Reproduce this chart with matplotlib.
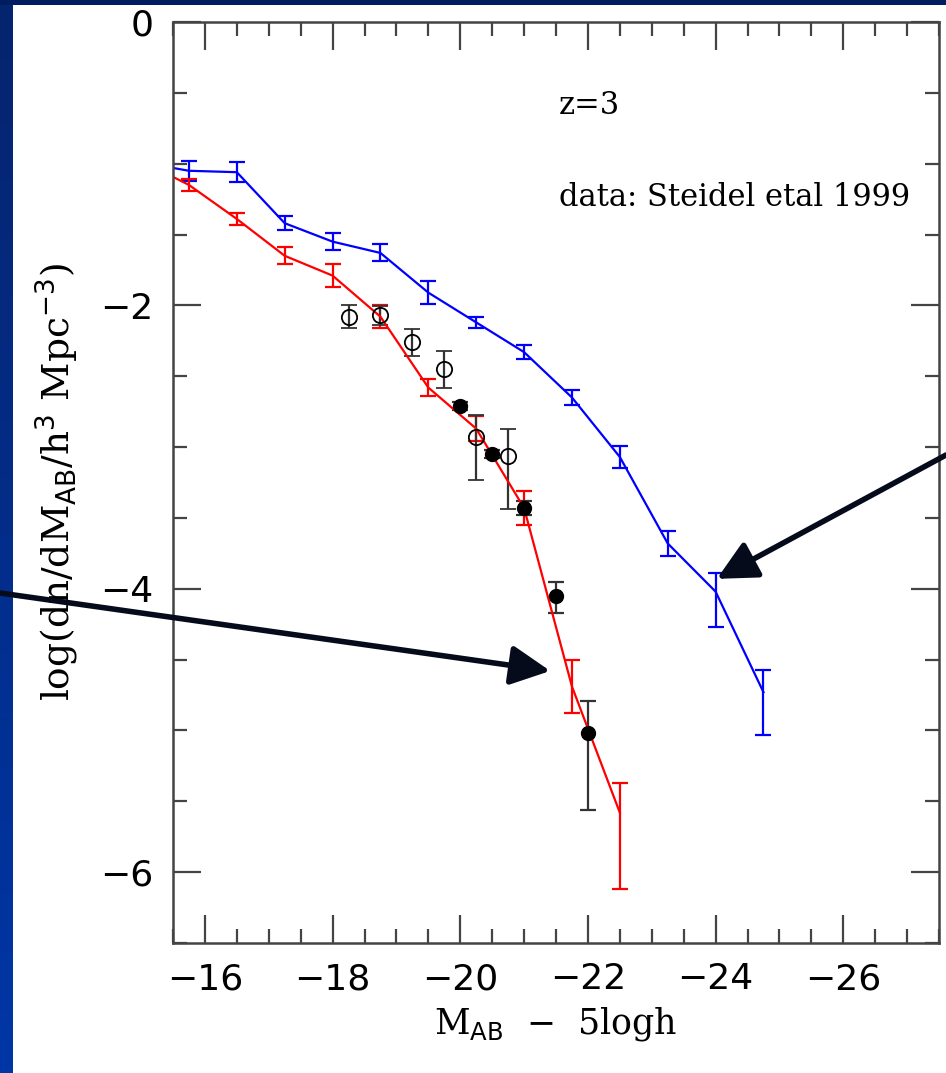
import numpy as np
import matplotlib
matplotlib.use("Agg")
import matplotlib.pyplot as plt
from matplotlib.colors import LinearSegmentedColormap

# model curves (blue / red), same magnitude grid
mag_blue = [-15.0, -15.75, -16.5, -17.25, -18.0, -18.75, -19.5, -20.25,
            -21.0, -21.75, -22.5, -23.25, -24.0, -24.75]
phi_blue = [-0.99, -1.05, -1.06, -1.42, -1.55, -1.63, -1.91, -2.12,
            -2.33, -2.65, -3.07, -3.68, -4.02, -4.73]
up_blue = [0.07, 0.07, 0.07, 0.05, 0.06, 0.06, 0.08, 0.04,
           0.05, 0.05, 0.08, 0.09, 0.13, 0.16]
lo_blue = [0.07, 0.07, 0.07, 0.05, 0.06, 0.06, 0.08, 0.04,
           0.05, 0.05, 0.08, 0.09, 0.25, 0.30]

mag_red = [-15.0, -15.75, -16.5, -17.25, -18.0, -18.75, -19.5, -20.25,
           -21.0, -21.75, -22.5]
phi_red = [-0.98, -1.15, -1.39, -1.65, -1.79, -2.08, -2.58, -2.87,
           -3.43, -4.69, -5.58]
up_red = [0.04, 0.04, 0.04, 0.06, 0.08, 0.08, 0.06, 0.09, 0.12, 0.19, 0.21]
lo_red = [0.04, 0.04, 0.04, 0.06, 0.08, 0.08, 0.06, 0.09, 0.12, 0.19, 0.54]

# Steidel et al 1999 data
mag_open = [-18.25, -18.75, -19.25, -19.75, -20.25, -20.75]
phi_open = [-2.08, -2.07, -2.26, -2.45, -2.93, -3.06]
up_open = [0.08, 0.065, 0.095, 0.13, 0.155, 0.19]
lo_open = [0.08, 0.065, 0.095, 0.13, 0.30, 0.38]

mag_fill = [-20.0, -20.5, -21.0, -21.5, -22.0]
phi_fill = [-2.71, -3.05, -3.43, -4.05, -5.02]
up_fill = [0.03, 0.03, 0.05, 0.10, 0.23]
lo_fill = [0.03, 0.03, 0.05, 0.12, 0.54]

fig = plt.figure(figsize=(9.46, 10.73), dpi=100, facecolor="white")

# slide background strips
grad = LinearSegmentedColormap.from_list("slide", ["#06246e", "#0036a6"])
ax_l = fig.add_axes([0, 0, 12 / 946, 1])
ax_l.imshow(np.linspace(0, 1, 256).reshape(-1, 1), aspect="auto", cmap=grad,
            extent=[0, 1, 0, 1], origin="upper")
ax_l.axis("off")
ax_t = fig.add_axes([0, 1 - 5 / 1073, 1, 5 / 1073])
ax_t.set_facecolor("#001d62")
ax_t.set_xticks([])
ax_t.set_yticks([])
for s in ax_t.spines.values():
    s.set_visible(False)

ax = fig.add_axes([173 / 946, 1 - 943 / 1073, 766 / 946, 921 / 1073])

ax.errorbar(mag_blue, phi_blue, yerr=[lo_blue, up_blue], color="#0000ff",
            lw=1.6, elinewidth=1.6, capsize=5.5, capthick=1.6)
ax.errorbar(mag_red, phi_red, yerr=[lo_red, up_red], color="#ff0000",
            lw=1.6, elinewidth=1.6, capsize=5.5, capthick=1.6)
ax.errorbar(mag_open, phi_open, yerr=[lo_open, up_open], fmt="o", ms=11,
            mfc="none", mec="black", mew=1.3, ecolor="#333333",
            elinewidth=1.6, capsize=5.5, capthick=1.6)
ax.errorbar(mag_fill, phi_fill, yerr=[lo_fill, up_fill], fmt="o", ms=10,
            mfc="black", mec="black", ecolor="#333333",
            elinewidth=1.6, capsize=5.5, capthick=1.6)

ax.set_xlim(-15.5, -27.5)
ax.set_ylim(-6.5, 0)
ax.set_xticks(np.arange(-16, -27, -2))
ax.set_xticks(np.arange(-15.5, -27.6, -0.5), minor=True)
ax.set_yticks([0, -2, -4, -6])
ax.set_yticks(np.arange(0, -6.6, -0.5), minor=True)
ax.tick_params(which="both", direction="in", top=True, right=True,
               color="#444444", width=1.6)
ax.tick_params(which="major", length=20, labelsize=26, pad=14)
ax.tick_params(which="minor", length=10)
for s in ax.spines.values():
    s.set_linewidth(1.8)
    s.set_color("#444444")

plt.rcParams["mathtext.fontset"] = "dejavuserif"
ax.set_xlabel(r"M$_{\rm AB}$  $-$  5logh", family="DejaVu Serif",
              fontsize=25, labelpad=6)
ax.set_ylabel(r"log(dn/dM$_{\rm AB}$/h$^3$ Mpc$^{-3}$)", family="DejaVu Serif",
              fontsize=27, labelpad=14)

ax.text(-21.54, -0.59, "z=3", family="DejaVu Serif", fontsize=22,
        ha="left", va="center")
ax.text(-21.54, -1.24, "data: Steidel etal 1999", family="DejaVu Serif",
        fontsize=22, ha="left", va="center")

arrow_kw = dict(arrowstyle="-|>,head_length=1.2,head_width=0.6",
                color="#060b1c", lw=4, mutation_scale=20,
                shrinkA=0, shrinkB=0)
ax.annotate("", xy=(-21.41, -4.58), xycoords="data",
            xytext=(0.0, 1 - 593 / 1073), textcoords="figure fraction",
            arrowprops=arrow_kw, annotation_clip=False, zorder=10)
ax.annotate("", xy=(-24.02, -3.93), xycoords="data",
            xytext=(1.0, 1 - 455 / 1073), textcoords="figure fraction",
            arrowprops=arrow_kw, annotation_clip=False, zorder=10)

fig.savefig("out.png", dpi=100, facecolor="white")
